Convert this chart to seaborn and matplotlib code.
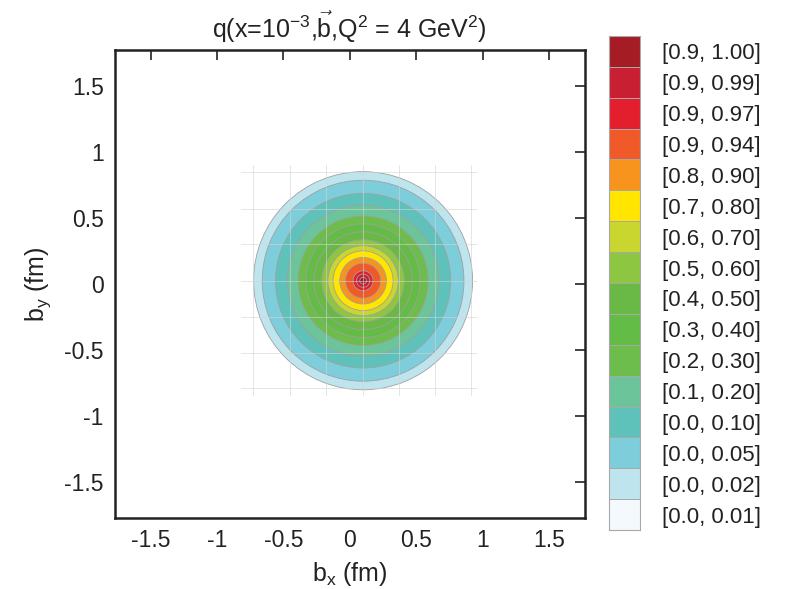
import numpy as np
import matplotlib
matplotlib.use("Agg")
import matplotlib.pyplot as plt
from matplotlib.colors import ListedColormap
from matplotlib.patches import Circle
import seaborn as sns

# legend bands, top to bottom
band_labels = ["[0.9, 1.00]", "[0.9, 0.99]", "[0.9, 0.97]", "[0.9, 0.94]",
               "[0.8, 0.90]", "[0.7, 0.80]", "[0.6, 0.70]", "[0.5, 0.60]",
               "[0.4, 0.50]", "[0.3, 0.40]", "[0.2, 0.30]", "[0.1, 0.20]",
               "[0.0, 0.10]", "[0.0, 0.05]", "[0.0, 0.02]", "[0.0, 0.01]"]
band_colors = ["#a51c24", "#c91f32", "#e31e2d", "#f05a28",
               "#f7941e", "#ffe500", "#cad630", "#8dc641",
               "#6ab845", "#63bc46", "#6dbd4c", "#6cc49a",
               "#5ec2ba", "#7dcdda", "#bee5ee", "#f3f9fc"]
# outer radius of each band (fm)
band_radii = [0.025, 0.05, 0.075, 0.133, 0.176, 0.226, 0.265, 0.31,
              0.37, 0.43, 0.49, 0.57, 0.66, 0.76, 0.825, np.nan]
center_x = 0.1
center_y = 0.025

# sampling mesh visible behind the distribution
grid_x = [-0.73, -0.45, -0.18, 0.10, 0.37, 0.64, 0.91]
grid_y = [0.85, 0.57, 0.30, 0.025, -0.25, -0.52, -0.79]
grid_span_x = (-0.82, 0.95)
grid_span_y = (-0.84, 0.90)

tick_values = [-1.5, -1, -0.5, 0, 0.5, 1, 1.5]
tick_labels = ["-1.5", "-1", "-0.5", "0", "0.5", "1", "1.5"]

sns.set_style("white")
plt.rcParams['font.family'] = ['Liberation Sans', 'DejaVu Sans']
plt.rcParams['mathtext.fontset'] = 'custom'
plt.rcParams['mathtext.rm'] = 'Liberation Sans'
plt.rcParams['mathtext.it'] = 'Liberation Sans:italic'
plt.rcParams['mathtext.bf'] = 'Liberation Sans:bold'
plt.rcParams['axes.unicode_minus'] = False

fig = plt.figure(figsize=(7.87, 5.89), dpi=100)
ax = fig.add_axes([0.146, 0.1205, 0.597, 0.7946])

# concentric bands, biggest first
for r, c in reversed(list(zip(band_radii, band_colors))):
    if np.isnan(r):
        continue
    ax.add_patch(Circle((center_x, center_y), r, facecolor=c,
                        edgecolor='#a0a0a0', linewidth=0.6, zorder=2))

for gx in grid_x:
    ax.plot([gx, gx], grid_span_y, color='#d4d4d4', alpha=0.6, lw=0.7, zorder=3)
for gy in grid_y:
    ax.plot(grid_span_x, [gy, gy], color='#d4d4d4', alpha=0.6, lw=0.7, zorder=3)

ax.set_xlim(-1.77, 1.77)
ax.set_ylim(-1.77, 1.77)
ax.set_xticks(tick_values)
ax.set_xticklabels(tick_labels)
ax.set_yticks(tick_values)
ax.set_yticklabels(tick_labels)
ax.tick_params(direction='in', length=7, width=1.2, top=True, right=True,
               labelsize=16.5, pad=8, colors='#222222')
for s in ax.spines.values():
    s.set_visible(True)
    s.set_linewidth(1.8)
    s.set_color('#222222')

ax.set_title(r"q(x=10$^{\mathrm{-3}}$,$\vec{\mathrm{b}}$,Q$^{\mathrm{2}}$ = 4 GeV$^{\mathrm{2}}$)",
             fontsize=18, pad=9, color='#222222')
ax.set_xlabel(r"b$_{\mathrm{x}}$ (fm)", fontsize=18, labelpad=6, color='#222222')
ax.set_ylabel(r"b$_{\mathrm{y}}$ (fm)", fontsize=18, labelpad=8, color='#222222')

# legend as a one-column heatmap
cax = fig.add_axes([0.774, 0.100, 0.039, 0.839])
sns.heatmap(np.arange(len(band_colors)).reshape(-1, 1),
            cmap=ListedColormap(band_colors), cbar=False,
            linewidths=0.6, linecolor='#a8a8a8', ax=cax,
            xticklabels=False, yticklabels=band_labels)
cax.yaxis.tick_right()
cax.tick_params(axis='y', length=0, pad=16, labelsize=16, rotation=0,
                colors='#222222')
for s in cax.spines.values():
    s.set_visible(True)
    s.set_color('#a8a8a8')
    s.set_linewidth(0.8)

fig.savefig("out.png", dpi=100)
